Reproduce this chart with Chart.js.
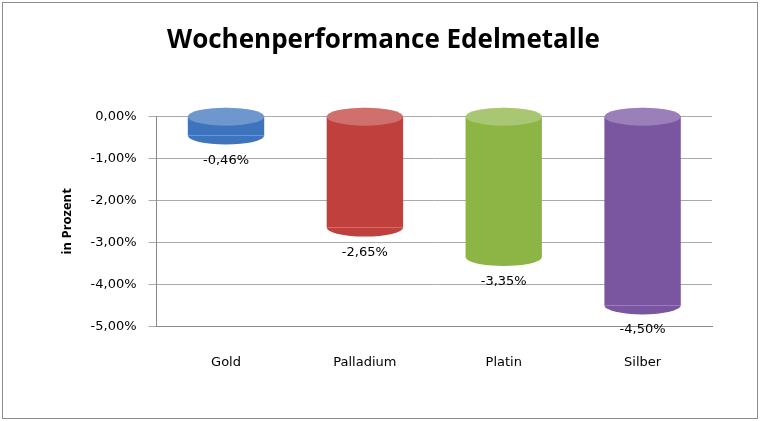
<!DOCTYPE html>
<html>
<head>
<meta charset="utf-8">
<script src="https://cdn.jsdelivr.net/npm/chart.js@4"></script>
<style>
  body { margin: 0; background: #fff; }
  #wrap { position: absolute; left: 2px; top: 2px; width: 754px; height: 415px; border: 1px solid #8c8c8c; }
</style>
</head>
<body>
<div id="wrap"><canvas id="perfChart" width="754" height="415"></canvas></div>
<script>
// Wochenperformance Edelmetalle
const metals = ['Gold', 'Palladium', 'Platin', 'Silber'];
const performance = [-0.46, -2.65, -3.35, -4.50];
const barColors = ['#3d74bd', '#c0403d', '#8db545', '#7a55a0'];

function fmt(v) {
    return v.toFixed(2).replace('.', ',') + '%';
}

// cylinder look: ellipses on top and bottom, value labels under the bars
const cylinderPlugin = {
    id: 'cylinder',
    afterDatasetsDraw(chart) {
        const ctx = chart.ctx;
        const meta = chart.getDatasetMeta(0);
        meta.data.forEach((bar, i) => {
            const w = bar.width;
            const x = bar.x;
            ctx.save();
            ctx.fillStyle = barColors[i];
            ctx.beginPath();
            ctx.ellipse(x, bar.y, w / 2, 9, 0, 0, Math.PI);
            ctx.fill();
            ctx.beginPath();
            ctx.ellipse(x, bar.base, w / 2, 9, 0, 0, Math.PI * 2);
            ctx.fill();
            ctx.fillStyle = 'rgba(255,255,255,0.25)';
            ctx.fill();
            ctx.fillStyle = '#000';
            ctx.font = '13px "DejaVu Sans"';
            ctx.textAlign = 'center';
            ctx.fillText(fmt(performance[i]), x, bar.y + 28);
            ctx.restore();
        });
    }
};

const ctx = document.getElementById('perfChart').getContext('2d');

new Chart(ctx, {
    type: 'bar',
    data: {
        labels: metals,
        datasets: [{
            data: performance,
            backgroundColor: barColors,
            borderWidth: 0,
            barPercentage: 0.55,
            categoryPercentage: 1
        }]
    },
    options: {
        responsive: false,
        animation: false,
        layout: { padding: { top: 10, right: 45, bottom: 28, left: 52 } },
        plugins: {
            legend: { display: false },
            tooltip: { enabled: false },
            title: {
                display: true,
                text: 'Wochenperformance Edelmetalle',
                color: '#000',
                font: { family: 'Open Sans', size: 26, weight: 'bold' },
                padding: { top: 12, bottom: 60 }
            }
        },
        scales: {
            x: {
                grid: { display: false },
                border: { color: '#888' },
                ticks: { color: '#000', font: { family: 'DejaVu Sans', size: 13 }, padding: 20 }
            },
            y: {
                min: -5,
                max: 0,
                ticks: {
                    stepSize: 1,
                    color: '#000',
                    font: { family: 'DejaVu Sans', size: 13 },
                    padding: 12,
                    callback: v => fmt(v)
                },
                grid: { color: '#aaa' },
                border: { color: '#888' },
                title: {
                    display: true,
                    text: 'in Prozent',
                    color: '#000',
                    font: { family: 'Open Sans', size: 13, weight: 'bold' }
                }
            }
        }
    },
    plugins: [cylinderPlugin]
});
</script>
</body>
</html>
